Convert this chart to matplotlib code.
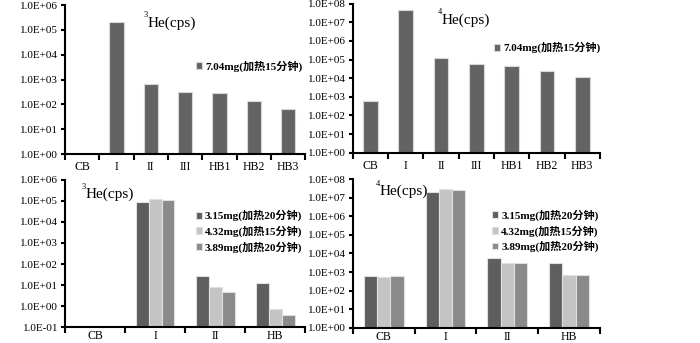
import numpy as np
import matplotlib
matplotlib.use('Agg')
import matplotlib.pyplot as plt
from matplotlib.ticker import FixedLocator, FuncFormatter

plt.rcParams['font.family'] = ['Liberation Serif', 'Noto Sans CJK SC']

# top row: one sample, 7 steps
CATS_TOP = ['CB', 'I', 'II', 'III', 'HB1', 'HB2', 'HB3']
HE3_TOP = [np.nan, 2.0e5, 690, 320, 275, 140, 68]
HE4_TOP = [630, 4.4e7, 1.2e5, 5.5e4, 4.4e4, 2.4e4, 1.2e4]
LABEL_TOP = '7.04mg(加热15分钟)'

# bottom row: three samples, 4 steps
CATS_BOT = ['CB', 'I', 'II', 'HB']
HE3_BOT = {
    '3.15mg(加热20分钟)': [np.nan, 9.1e4, 26, 12],
    '4.32mg(加热15分钟)': [np.nan, 1.2e5, 8.2, 0.74],
    '3.89mg(加热20分钟)': [np.nan, 1.12e5, 4.9, 0.37],
}
HE4_BOT = {
    '3.15mg(加热20分钟)': [620, 2.1e7, 5700, 3000],
    '4.32mg(加热15分钟)': [520, 2.9e7, 3000, 720],
    '3.89mg(加热20分钟)': [650, 2.6e7, 3000, 720],
}
COLORS_BOT = ['#5e5e5e', '#c4c4c4', '#8a8a8a']
COLOR_TOP = '#636363'


def style_axis(ax, cats, lo, hi, pad):
    ax.set_yscale('log')
    ax.set_ylim(10.0 ** lo, 10.0 ** hi)
    ax.yaxis.set_major_locator(FixedLocator([10.0 ** e for e in range(lo, hi + 1)]))
    ax.yaxis.set_minor_locator(FixedLocator([]))
    ax.yaxis.set_major_formatter(FuncFormatter(lambda v, p: '%.1E' % v))
    n = len(cats)
    ax.set_xlim(-0.5, n - 0.5)
    ax.set_xticks(np.arange(n + 1) - 0.5)
    ax.set_xticklabels([])
    ax.set_xticks(np.arange(n), minor=True)
    ax.set_xticklabels(cats, minor=True)
    ax.tick_params(axis='x', which='minor', length=0, pad=pad, labelsize=8.5)
    ax.tick_params(axis='x', which='major', length=4, width=1.5, direction='out')
    ax.tick_params(axis='y', which='major', length=3, width=1.5, direction='out',
                   labelsize=8, pad=2)
    for s in ['top', 'right']:
        ax.spines[s].set_visible(False)
    for s in ['left', 'bottom']:
        ax.spines[s].set_linewidth(1.5)


def title(ax, x, y, iso):
    ax.text(x, y, 'He(cps)', transform=ax.transAxes, fontsize=11,
            ha='left', va='center', family='Liberation Serif')
    ax.text(x, y + 0.025, iso, transform=ax.transAxes, fontsize=6,
            ha='right', va='bottom', family='Liberation Serif')


def legend(ax, x, y):
    return ax.legend(loc='upper left', bbox_to_anchor=(x, y), frameon=False,
                     handlelength=0.55, handleheight=0.55, handletextpad=0.3,
                     labelspacing=0.38, borderaxespad=0,
                     prop={'weight': 'bold', 'size': 8})


fig = plt.figure(figsize=(7, 3.43), dpi=100)
ax1 = fig.add_axes([0.093, 0.551, 0.343, 0.434])
ax2 = fig.add_axes([0.504, 0.555, 0.353, 0.434])
ax3 = fig.add_axes([0.093, 0.046, 0.343, 0.430])
ax4 = fig.add_axes([0.504, 0.044, 0.353, 0.434])

# top panels
xs = np.arange(len(CATS_TOP))
for ax, vals, lo, hi, iso, tpos, lpos in [
        (ax1, HE3_TOP, 0, 6, '3', (0.345, 0.88), (0.525, 0.66)),
        (ax2, HE4_TOP, 0, 8, '4', (0.36, 0.89), (0.555, 0.773))]:
    ax.bar(xs, vals, width=0.42, color=COLOR_TOP, edgecolor='#d8d8d8',
           linewidth=0.8, label=LABEL_TOP)
    style_axis(ax, CATS_TOP, lo, hi, 5)
    title(ax, *tpos, iso)
    legend(ax, *lpos)

# bottom panels
xb = np.arange(len(CATS_BOT))
w = 0.215
for ax, data, lo, hi, iso, tpos, lpos in [
        (ax3, HE3_BOT, -1, 6, '3', (0.085, 0.9), (0.525, 0.825)),
        (ax4, HE4_BOT, 0, 8, '4', (0.11, 0.915), (0.545, 0.825))]:
    for i, (lab, vals) in enumerate(data.items()):
        ax.bar(xb + (i - 1) * w, vals, width=w, color=COLORS_BOT[i],
               edgecolor='#e0e0e0', linewidth=0.8, label=lab)
    style_axis(ax, CATS_BOT, lo, hi, 2)
    title(ax, *tpos, iso)
    legend(ax, *lpos)

fig.savefig('out.png', dpi=100)
